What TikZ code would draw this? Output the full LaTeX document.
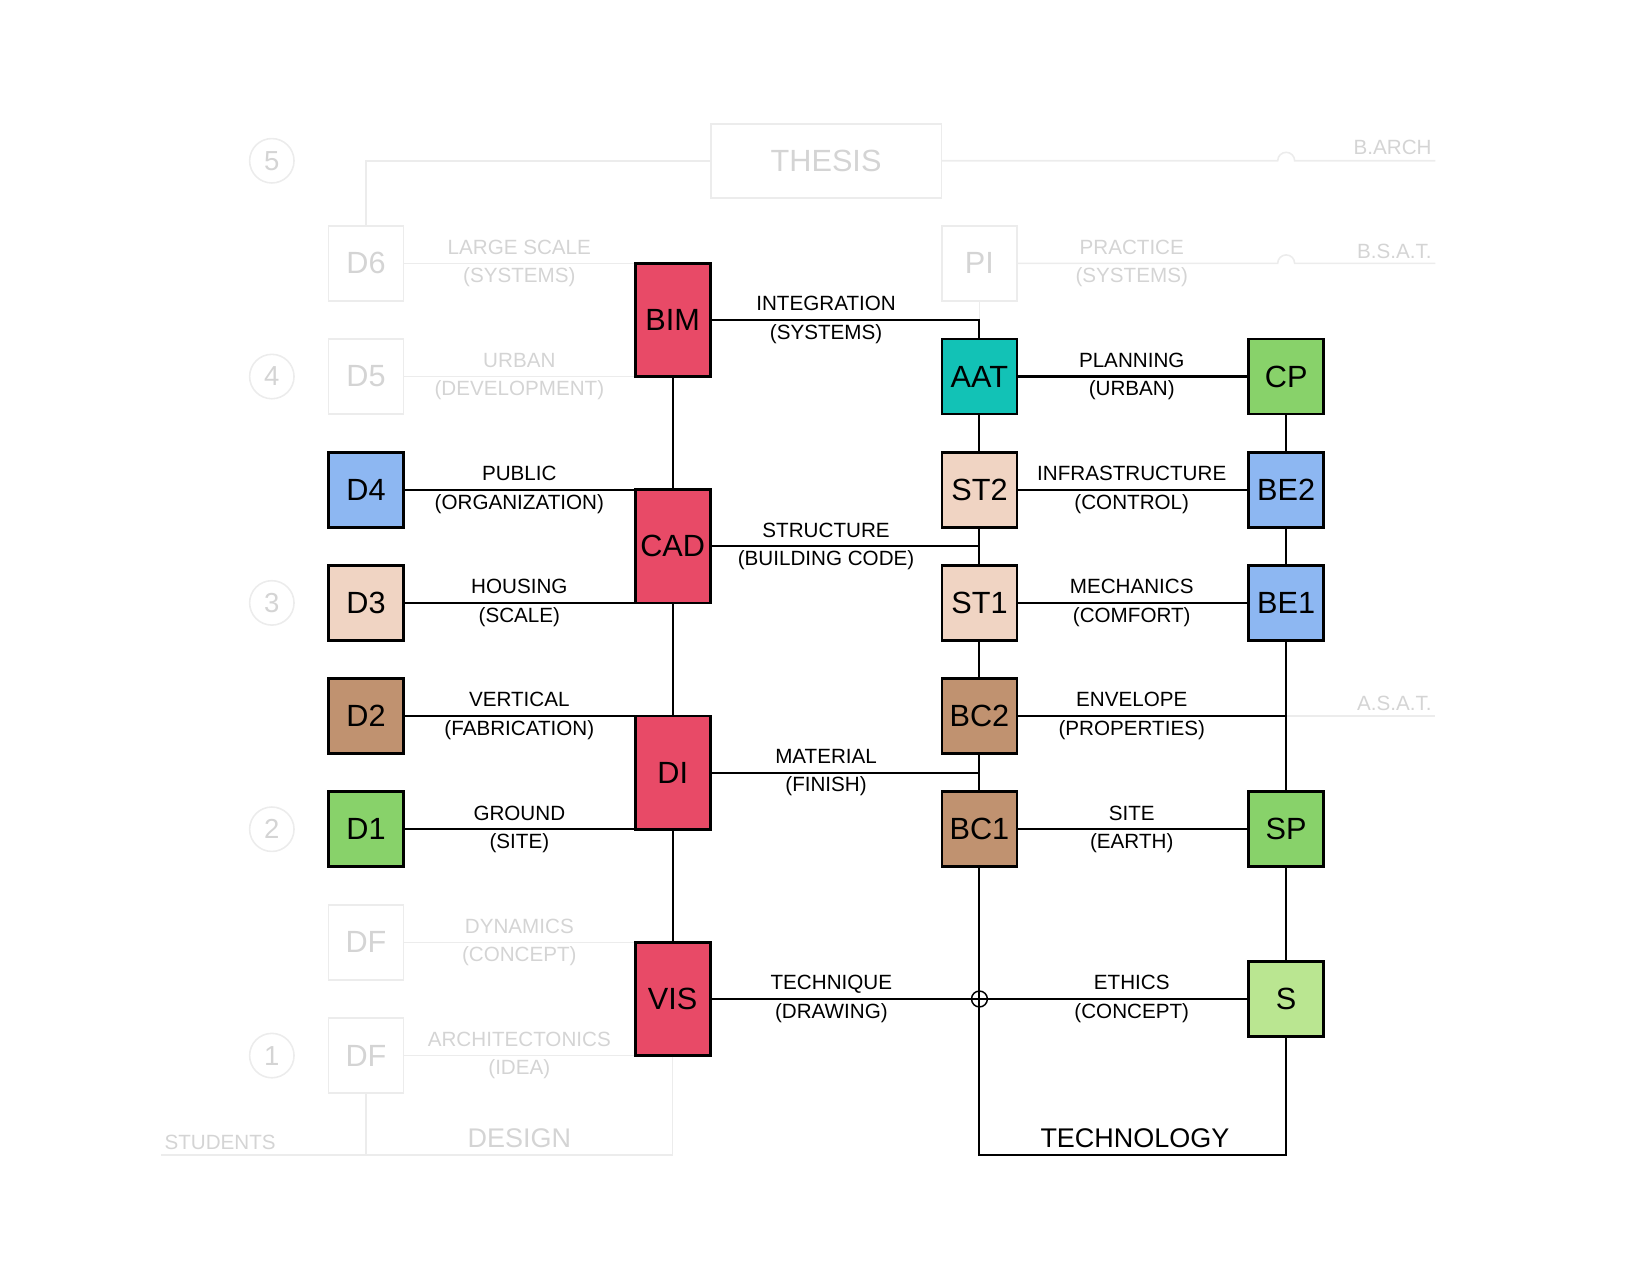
\documentclass[tikz,border=0pt]{standalone}
\usepackage{fontspec}
\setmainfont{Liberation Sans}
\usetikzlibrary{positioning}
\definecolor{redbox}{RGB}{232,74,103}
\definecolor{tealbox}{RGB}{18,194,182}
\definecolor{greenbox}{RGB}{136,210,106}
\definecolor{lightgreenbox}{RGB}{186,230,145}
\definecolor{bluebox}{RGB}{141,183,242}
\definecolor{beigebox}{RGB}{240,212,195}
\definecolor{brownbox}{RGB}{192,146,112}
\definecolor{ghosttext}{RGB}{212,212,212}
\definecolor{ghostline}{RGB}{236,236,236}
\tikzset{font=\fontsize{19.5}{27}\selectfont}
\tikzset{box/.style={draw, line width=2.6pt, minimum width=71pt, minimum height=71pt,
    inner sep=0pt, font=\fontsize{29}{30}\selectfont}}
\tikzset{tallbox/.style={box, minimum height=107pt}}
\tikzset{ghostbox/.style={draw=ghostline, line width=1.5pt, text=ghosttext,
    minimum width=71pt, minimum height=71pt, inner sep=0pt, font=\fontsize{29}{30}\selectfont}}
\tikzset{ghost/.style={draw=ghostline, line width=1.5pt}}
\tikzset{ghostlbl/.style={align=center, text=ghosttext}}
\tikzset{lbl/.style={align=center}}
\tikzset{wire/.style={line width=2pt}}
\tikzset{yearno/.style={circle, draw=ghostline, line width=1.5pt, minimum size=42pt,
    inner sep=0pt, text=ghosttext, font=\fontsize{26}{26}\selectfont}}

\begin{document}
\begin{tikzpicture}[x=1pt,y=-1pt]
  \useasboundingbox (3,-1) rectangle (1563,1205);

  % faded frame: years, design studios, thesis
  \node[yearno] (y5) at (260,151) {5};
  \node[yearno] (y4) at (260,355) {4};
  \node[yearno] (y3) at (260,569) {3};
  \node[yearno] (y2) at (260,783) {2};
  \node[yearno] (y1) at (260,997) {1};

  \node[ghostbox, minimum width=218pt, minimum height=70pt] (THESIS) at (784,151) {THESIS};
  \node[ghostbox] (D6) at (349,248) {D6};
  \node[ghostbox] (D5) at (349,355) {D5};
  \node[ghostbox] (DFa) at (349,890) {DF};
  \node[ghostbox] (DFb) at (349,997) {DF};
  \node[ghostbox] (PI) at (929,248) {PI};

  % design column
  \node[box, fill=bluebox] (D4) at (349,462) {D4};
  \node[box, fill=beigebox] (D3) at (349,569) {D3};
  \node[box, fill=brownbox] (D2) at (349,676) {D2};
  \node[box, fill=greenbox] (D1) at (349,783) {D1};

  \node[tallbox, fill=redbox] (BIM) at (639,301.5) {BIM};
  \node[tallbox, fill=redbox] (CAD) at (639,515.5) {CAD};
  \node[tallbox, fill=redbox] (DI) at (639,729.5) {DI};
  \node[tallbox, fill=redbox] (VIS) at (639,943.5) {VIS};

  % technology columns
  \node[box, fill=tealbox] (AAT) at (929,355) {AAT};
  \node[box, fill=beigebox] (ST2) at (929,462) {ST2};
  \node[box, fill=beigebox] (ST1) at (929,569) {ST1};
  \node[box, fill=brownbox] (BC2) at (929,676) {BC2};
  \node[box, fill=brownbox] (BC1) at (929,783) {BC1};

  \node[box, fill=greenbox] (CP) at (1219,355) {CP};
  \node[box, fill=bluebox] (BE2) at (1219,462) {BE2};
  \node[box, fill=bluebox] (BE1) at (1219,569) {BE1};
  \node[box, fill=greenbox] (SP) at (1219,783) {SP};
  \node[box, fill=lightgreenbox] (S) at (1219,943.5) {S};

  \coordinate (base) at (155,1091);
  \coordinate (techbase) at (1073,1091);

  % faded connectors
  \draw[ghost] (D6.north) |- (THESIS.west);
  \draw[ghost] (THESIS.east) -- (1211,151) arc[start angle=180, end angle=360, radius=8]
    -- (1360,151);
  \draw[ghost] (PI.east) -- (1211,248) arc[start angle=180, end angle=360, radius=8]
    -- (1360,248);
  \draw[ghost] (PI.south) -- (PI.south |- BIM.east);
  \draw[ghost] (SP.north |- BC2.east) -- (1360,676);
  \draw[ghost] (D6.east) -- (D6.east -| BIM.west);
  \draw[ghost] (D5.east) -- (D5.east -| BIM.west);
  \draw[ghost] (DFa.east) -- (DFa.east -| VIS.west);
  \draw[ghost] (DFb.east) -- (DFb.east -| VIS.west);
  \draw[ghost] (VIS.south) |- (base);
  \draw[ghost] (DFb.south) -- (DFb.south |- base);

  % connectors
  \draw[wire] (BIM) -- (CAD) -- (DI) -- (VIS);
  \draw[wire] (D4.east) -- (D4.east -| CAD.west);
  \draw[wire] (D3.east) -- (D3.east -| CAD.west);
  \draw[wire] (D2.east) -- (D2.east -| DI.west);
  \draw[wire] (D1.east) -- (D1.east -| DI.west);
  \draw[wire] (BIM.east) -| (AAT.north);
  \draw[wire] (AAT) -- (ST2) -- (ST1) -- (BC2) -- (BC1);
  \draw[wire] (CAD.east) -- (CAD.east -| ST1.north);
  \draw[wire] (DI.east) -- (DI.east -| BC1.north);
  \draw[wire] (VIS.east) -- (S.west);
  \draw[wire] (BC1.south) |- (techbase) -| (S.south);
  \draw[wire] (CP) -- (BE2) -- (BE1) -- (SP) -- (S);
  \draw[wire] (AAT) -- (CP);
  \draw[wire] (ST2) -- (BE2);
  \draw[wire] (ST1) -- (BE1);
  \draw[wire] (BC2.east) -- (BC2.east -| SP.north);
  \draw[wire] (BC1) -- (SP);
  \node[circle, draw, line width=1.4pt, minimum size=15pt, inner sep=0pt]
    (hop) at (VIS.east -| BC1.south) {};

  % labels
  \node[ghostlbl] (l6) at (494,248) {LARGE SCALE\\(SYSTEMS)};
  \node[ghostlbl] (l5) at (494,355) {URBAN\\(DEVELOPMENT)};
  \node[lbl] (l4) at (494,462) {PUBLIC\\(ORGANIZATION)};
  \node[lbl] (l3) at (494,569) {HOUSING\\(SCALE)};
  \node[lbl] (l2) at (494,676) {VERTICAL\\(FABRICATION)};
  \node[lbl] (l1) at (494,783) {GROUND\\(SITE)};
  \node[ghostlbl] (lfa) at (494,890) {DYNAMICS\\(CONCEPT)};
  \node[ghostlbl] (lfb) at (494,997) {ARCHITECTONICS\\(IDEA)};

  \node[lbl] (m1) at (784,301.5) {INTEGRATION\\(SYSTEMS)};
  \node[lbl] (m2) at (784,515.5) {STRUCTURE\\(BUILDING CODE)};
  \node[lbl] (m3) at (784,729.5) {MATERIAL\\(FINISH)};
  \node[lbl] (m4) at (789,943.5) {TECHNIQUE\\(DRAWING)};

  \node[ghostlbl] (rpi) at (1073,248) {PRACTICE\\(SYSTEMS)};
  \node[lbl] (r1) at (1073,355) {PLANNING\\(URBAN)};
  \node[lbl] (r2) at (1073,462) {INFRASTRUCTURE\\(CONTROL)};
  \node[lbl] (r3) at (1073,569) {MECHANICS\\(COMFORT)};
  \node[lbl] (r4) at (1073,676) {ENVELOPE\\(PROPERTIES)};
  \node[lbl] (r5) at (1073,783) {SITE\\(EARTH)};
  \node[lbl] (r6) at (1073,943.5) {ETHICS\\(CONCEPT)};

  \node[anchor=base east, text=ghosttext] (barch) at (1360,145) {B.ARCH};
  \node[anchor=base east, text=ghosttext] (bsat) at (1360,243) {B.S.A.T.};
  \node[anchor=base east, text=ghosttext] (asat) at (1360,671) {A.S.A.T.};
  \node[anchor=base west, text=ghosttext] (students) at (155,1086) {STUDENTS};
  \node[anchor=base, text=ghosttext, font=\fontsize{25.5}{26}\selectfont]
    (design) at (494,1084) {DESIGN};
  \node[anchor=base, font=\fontsize{25.5}{26}\selectfont]
    (technology) at (1076,1084) {TECHNOLOGY};
\end{tikzpicture}
\end{document}
